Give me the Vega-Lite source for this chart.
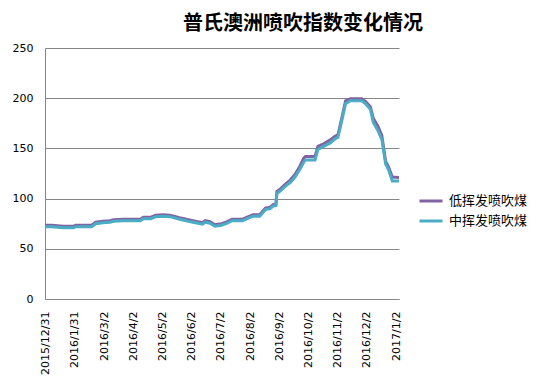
{
  "$schema": "https://vega.github.io/schema/vega-lite/v6.json",
  "autosize": "none",
  "width": 354,
  "height": 251,
  "padding": {"left": 45, "top": 48, "right": 140, "bottom": 84},
  "background": "white",
  "config": {
    "view": {"stroke": null},
    "font": "DejaVu Sans"
  },
  "title": {
    "text": "普氏澳洲喷吹指数变化情况",
    "font": "Noto Sans CJK SC",
    "fontSize": 20,
    "fontWeight": "bold",
    "color": "#000000",
    "anchor": "start",
    "frame": "group",
    "dx": 138,
    "offset": 8
  },
  "data": {
    "values": [
      {"date": "2015-12-31", "series": "低挥发喷吹煤", "value": 73.5},
      {"date": "2016-01-07", "series": "低挥发喷吹煤", "value": 73.5},
      {"date": "2016-01-13", "series": "低挥发喷吹煤", "value": 73},
      {"date": "2016-01-19", "series": "低挥发喷吹煤", "value": 72.5},
      {"date": "2016-01-30", "series": "低挥发喷吹煤", "value": 72.5},
      {"date": "2016-02-01", "series": "低挥发喷吹煤", "value": 73.5},
      {"date": "2016-02-18", "series": "低挥发喷吹煤", "value": 73.5},
      {"date": "2016-02-22", "series": "低挥发喷吹煤", "value": 76.5},
      {"date": "2016-03-01", "series": "低挥发喷吹煤", "value": 77.5},
      {"date": "2016-03-08", "series": "低挥发喷吹煤", "value": 78},
      {"date": "2016-03-12", "series": "低挥发喷吹煤", "value": 79},
      {"date": "2016-03-22", "series": "低挥发喷吹煤", "value": 79.5},
      {"date": "2016-04-09", "series": "低挥发喷吹煤", "value": 79.5},
      {"date": "2016-04-12", "series": "低挥发喷吹煤", "value": 81.5},
      {"date": "2016-04-20", "series": "低挥发喷吹煤", "value": 81.5},
      {"date": "2016-04-25", "series": "低挥发喷吹煤", "value": 83.5},
      {"date": "2016-05-03", "series": "低挥发喷吹煤", "value": 84},
      {"date": "2016-05-10", "series": "低挥发喷吹煤", "value": 83.5},
      {"date": "2016-05-20", "series": "低挥发喷吹煤", "value": 81},
      {"date": "2016-06-03", "series": "低挥发喷吹煤", "value": 78},
      {"date": "2016-06-13", "series": "低挥发喷吹煤", "value": 76},
      {"date": "2016-06-16", "series": "低挥发喷吹煤", "value": 78},
      {"date": "2016-06-21", "series": "低挥发喷吹煤", "value": 77},
      {"date": "2016-06-26", "series": "低挥发喷吹煤", "value": 74},
      {"date": "2016-07-03", "series": "低挥发喷吹煤", "value": 75},
      {"date": "2016-07-09", "series": "低挥发喷吹煤", "value": 77},
      {"date": "2016-07-14", "series": "低挥发喷吹煤", "value": 79.5},
      {"date": "2016-07-25", "series": "低挥发喷吹煤", "value": 79.5},
      {"date": "2016-07-30", "series": "低挥发喷吹煤", "value": 81.5},
      {"date": "2016-08-05", "series": "低挥发喷吹煤", "value": 84},
      {"date": "2016-08-12", "series": "低挥发喷吹煤", "value": 84},
      {"date": "2016-08-18", "series": "低挥发喷吹煤", "value": 90.5},
      {"date": "2016-08-23", "series": "低挥发喷吹煤", "value": 91.5},
      {"date": "2016-08-26", "series": "低挥发喷吹煤", "value": 94},
      {"date": "2016-08-29", "series": "低挥发喷吹煤", "value": 94.5},
      {"date": "2016-08-30", "series": "低挥发喷吹煤", "value": 107},
      {"date": "2016-09-03", "series": "低挥发喷吹煤", "value": 110},
      {"date": "2016-09-08", "series": "低挥发喷吹煤", "value": 114.5},
      {"date": "2016-09-13", "series": "低挥发喷吹煤", "value": 118.5},
      {"date": "2016-09-18", "series": "低挥发喷吹煤", "value": 124},
      {"date": "2016-09-23", "series": "低挥发喷吹煤", "value": 132},
      {"date": "2016-09-27", "series": "低挥发喷吹煤", "value": 140},
      {"date": "2016-09-29", "series": "低挥发喷吹煤", "value": 142},
      {"date": "2016-10-09", "series": "低挥发喷吹煤", "value": 142},
      {"date": "2016-10-12", "series": "低挥发喷吹煤", "value": 152},
      {"date": "2016-10-18", "series": "低挥发喷吹煤", "value": 154.5},
      {"date": "2016-10-25", "series": "低挥发喷吹煤", "value": 158.5},
      {"date": "2016-10-30", "series": "低挥发喷吹煤", "value": 162},
      {"date": "2016-11-02", "series": "低挥发喷吹煤", "value": 163.5},
      {"date": "2016-11-06", "series": "低挥发喷吹煤", "value": 180},
      {"date": "2016-11-10", "series": "低挥发喷吹煤", "value": 197.5},
      {"date": "2016-11-15", "series": "低挥发喷吹煤", "value": 199.5},
      {"date": "2016-11-27", "series": "低挥发喷吹煤", "value": 199.5},
      {"date": "2016-12-01", "series": "低挥发喷吹煤", "value": 196.5},
      {"date": "2016-12-06", "series": "低挥发喷吹煤", "value": 191.5},
      {"date": "2016-12-09", "series": "低挥发喷吹煤", "value": 180},
      {"date": "2016-12-14", "series": "低挥发喷吹煤", "value": 172},
      {"date": "2016-12-18", "series": "低挥发喷吹煤", "value": 163},
      {"date": "2016-12-22", "series": "低挥发喷吹煤", "value": 137},
      {"date": "2016-12-25", "series": "低挥发喷吹煤", "value": 131.5},
      {"date": "2016-12-29", "series": "低挥发喷吹煤", "value": 121.5},
      {"date": "2017-01-05", "series": "低挥发喷吹煤", "value": 121},
      {"date": "2015-12-31", "series": "中挥发喷吹煤", "value": 72},
      {"date": "2016-01-07", "series": "中挥发喷吹煤", "value": 72},
      {"date": "2016-01-13", "series": "中挥发喷吹煤", "value": 71.5},
      {"date": "2016-01-19", "series": "中挥发喷吹煤", "value": 71},
      {"date": "2016-01-30", "series": "中挥发喷吹煤", "value": 71},
      {"date": "2016-02-01", "series": "中挥发喷吹煤", "value": 72},
      {"date": "2016-02-18", "series": "中挥发喷吹煤", "value": 72},
      {"date": "2016-02-22", "series": "中挥发喷吹煤", "value": 75},
      {"date": "2016-03-01", "series": "中挥发喷吹煤", "value": 76},
      {"date": "2016-03-08", "series": "中挥发喷吹煤", "value": 76.5},
      {"date": "2016-03-12", "series": "中挥发喷吹煤", "value": 77.5},
      {"date": "2016-03-22", "series": "中挥发喷吹煤", "value": 78},
      {"date": "2016-04-09", "series": "中挥发喷吹煤", "value": 78},
      {"date": "2016-04-12", "series": "中挥发喷吹煤", "value": 80},
      {"date": "2016-04-20", "series": "中挥发喷吹煤", "value": 80},
      {"date": "2016-04-25", "series": "中挥发喷吹煤", "value": 82},
      {"date": "2016-05-03", "series": "中挥发喷吹煤", "value": 82.5},
      {"date": "2016-05-10", "series": "中挥发喷吹煤", "value": 82},
      {"date": "2016-05-20", "series": "中挥发喷吹煤", "value": 79.5},
      {"date": "2016-06-03", "series": "中挥发喷吹煤", "value": 76.5},
      {"date": "2016-06-13", "series": "中挥发喷吹煤", "value": 74.5},
      {"date": "2016-06-16", "series": "中挥发喷吹煤", "value": 76.5},
      {"date": "2016-06-21", "series": "中挥发喷吹煤", "value": 75.5},
      {"date": "2016-06-26", "series": "中挥发喷吹煤", "value": 72.5},
      {"date": "2016-07-03", "series": "中挥发喷吹煤", "value": 73.5},
      {"date": "2016-07-09", "series": "中挥发喷吹煤", "value": 75.5},
      {"date": "2016-07-14", "series": "中挥发喷吹煤", "value": 78},
      {"date": "2016-07-25", "series": "中挥发喷吹煤", "value": 78},
      {"date": "2016-07-30", "series": "中挥发喷吹煤", "value": 80},
      {"date": "2016-08-05", "series": "中挥发喷吹煤", "value": 82.5},
      {"date": "2016-08-12", "series": "中挥发喷吹煤", "value": 82.5},
      {"date": "2016-08-18", "series": "中挥发喷吹煤", "value": 89},
      {"date": "2016-08-23", "series": "中挥发喷吹煤", "value": 90},
      {"date": "2016-08-26", "series": "中挥发喷吹煤", "value": 92.5},
      {"date": "2016-08-29", "series": "中挥发喷吹煤", "value": 93},
      {"date": "2016-08-30", "series": "中挥发喷吹煤", "value": 105},
      {"date": "2016-09-03", "series": "中挥发喷吹煤", "value": 108},
      {"date": "2016-09-08", "series": "中挥发喷吹煤", "value": 112.5},
      {"date": "2016-09-13", "series": "中挥发喷吹煤", "value": 116},
      {"date": "2016-09-18", "series": "中挥发喷吹煤", "value": 121.5},
      {"date": "2016-09-23", "series": "中挥发喷吹煤", "value": 129},
      {"date": "2016-09-27", "series": "中挥发喷吹煤", "value": 136},
      {"date": "2016-09-29", "series": "中挥发喷吹煤", "value": 138.5},
      {"date": "2016-10-09", "series": "中挥发喷吹煤", "value": 138.5},
      {"date": "2016-10-12", "series": "中挥发喷吹煤", "value": 149},
      {"date": "2016-10-18", "series": "中挥发喷吹煤", "value": 152},
      {"date": "2016-10-25", "series": "中挥发喷吹煤", "value": 155.5},
      {"date": "2016-10-30", "series": "中挥发喷吹煤", "value": 159.5},
      {"date": "2016-11-02", "series": "中挥发喷吹煤", "value": 161},
      {"date": "2016-11-06", "series": "中挥发喷吹煤", "value": 177.5},
      {"date": "2016-11-10", "series": "中挥发喷吹煤", "value": 194.5},
      {"date": "2016-11-15", "series": "中挥发喷吹煤", "value": 197.5},
      {"date": "2016-11-27", "series": "中挥发喷吹煤", "value": 197.5},
      {"date": "2016-12-01", "series": "中挥发喷吹煤", "value": 194.5},
      {"date": "2016-12-06", "series": "中挥发喷吹煤", "value": 189},
      {"date": "2016-12-09", "series": "中挥发喷吹煤", "value": 176},
      {"date": "2016-12-14", "series": "中挥发喷吹煤", "value": 167.5},
      {"date": "2016-12-18", "series": "中挥发喷吹煤", "value": 159},
      {"date": "2016-12-22", "series": "中挥发喷吹煤", "value": 134.5},
      {"date": "2016-12-25", "series": "中挥发喷吹煤", "value": 129},
      {"date": "2016-12-29", "series": "中挥发喷吹煤", "value": 117.5},
      {"date": "2017-01-05", "series": "中挥发喷吹煤", "value": 117.5}
    ]
  },
  "mark": {"type": "line", "strokeWidth": 3, "clip": true},
  "encoding": {
    "x": {
      "field": "date",
      "type": "temporal",
      "scale": {
        "type": "utc",
        "domain": [
          {"year": 2015, "month": 12, "date": 31, "utc": true},
          {"year": 2017, "month": 1, "date": 5, "utc": true}
        ]
      },
      "axis": {
        "title": null,
        "grid": false,
        "ticks": false,
        "domainColor": "#868686",
        "domainWidth": 1,
        "labelAngle": 270,
        "labelPadding": 12,
        "labelFont": "DejaVu Sans",
        "labelFontSize": 11,
        "labelColor": "#000000",
        "labelOverlap": false,
        "labelBound": false,
        "labelFlush": false,
        "values": [
          {"year": 2015, "month": 12, "date": 31, "utc": true},
          {"year": 2016, "month": 1, "date": 31, "utc": true},
          {"year": 2016, "month": 3, "date": 2, "utc": true},
          {"year": 2016, "month": 4, "date": 2, "utc": true},
          {"year": 2016, "month": 5, "date": 2, "utc": true},
          {"year": 2016, "month": 6, "date": 2, "utc": true},
          {"year": 2016, "month": 7, "date": 2, "utc": true},
          {"year": 2016, "month": 8, "date": 2, "utc": true},
          {"year": 2016, "month": 9, "date": 2, "utc": true},
          {"year": 2016, "month": 10, "date": 2, "utc": true},
          {"year": 2016, "month": 11, "date": 2, "utc": true},
          {"year": 2016, "month": 12, "date": 2, "utc": true},
          {"year": 2017, "month": 1, "date": 2, "utc": true}
        ],
        "labelExpr": "utcFormat(datum.value, '%Y/%-m/%-d')"
      }
    },
    "y": {
      "field": "value",
      "type": "quantitative",
      "scale": {"domain": [0, 250], "nice": false, "zero": true},
      "axis": {
        "title": null,
        "values": [0, 50, 100, 150, 200, 250],
        "grid": true,
        "gridColor": "#868686",
        "gridWidth": 1,
        "ticks": false,
        "domainColor": "#868686",
        "domainWidth": 1,
        "labelPadding": 12,
        "labelFont": "DejaVu Sans",
        "labelFontSize": 11,
        "labelColor": "#000000"
      }
    },
    "color": {
      "field": "series",
      "type": "nominal",
      "scale": {
        "domain": ["低挥发喷吹煤", "中挥发喷吹煤"],
        "range": ["#8064A2", "#4BACC6"]
      },
      "legend": {
        "title": null,
        "orient": "none",
        "legendX": 373,
        "legendY": 140,
        "padding": 0,
        "symbolType": "stroke",
        "symbolStrokeWidth": 3,
        "symbolSize": 529,
        "rowPadding": 0,
        "labelOffset": 5,
        "labelFont": "Noto Sans CJK SC",
        "labelFontSize": 13,
        "labelColor": "#000000"
      }
    }
  }
}
